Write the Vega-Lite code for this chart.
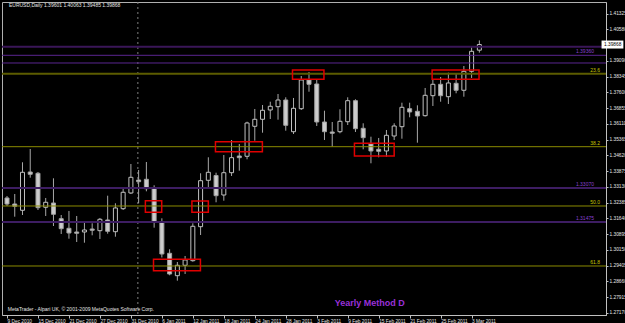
{
 "$schema": "https://vega.github.io/schema/vega-lite/v6.json",
 "width": 604, "height": 313,
 "autosize": "none",
 "padding": {"left": 2, "top": 2, "right": 19, "bottom": 8},
 "background": "#000000",
 "config": {
  "view": {"stroke": "#b0b0b0", "strokeWidth": 1},
  "axis": {"grid": false, "domainColor": "#c0c0c0", "tickColor": "#c0c0c0", "labelColor": "#e6e6e6", "labelFont": "Liberation Sans", "labelFontSize": 4.8, "tickSize": 2, "labelOverlap": false, "labelFlush": false, "labelBound": false},
  "text": {"font": "Liberation Sans"}
 },
 "datasets": {
  "one": [{}],
  "bars": [
   {"i":0,"date":"2010-12-09","o":1.32610,"h":1.32704,"l":1.32231,"c":1.32326},
   {"i":1,"date":"2010-12-10","o":1.32326,"h":1.32799,"l":1.31725,"c":1.32217},
   {"i":2,"date":"2010-12-13","o":1.32028,"h":1.34298,"l":1.31805,"c":1.33825},
   {"i":3,"date":"2010-12-14","o":1.33839,"h":1.34927,"l":1.33570,"c":1.33731},
   {"i":4,"date":"2010-12-15","o":1.33778,"h":1.33839,"l":1.32042,"c":1.32151},
   {"i":5,"date":"2010-12-16","o":1.32170,"h":1.32610,"l":1.31758,"c":1.32406},
   {"i":6,"date":"2010-12-17","o":1.32373,"h":1.33541,"l":1.31285,"c":1.31839},
   {"i":7,"date":"2010-12-20","o":1.31630,"h":1.31805,"l":1.30907,"c":1.31157},
   {"i":8,"date":"2010-12-21","o":1.31176,"h":1.31995,"l":1.30684,"c":1.30954},
   {"i":9,"date":"2010-12-22","o":1.31001,"h":1.31758,"l":1.30528,"c":1.30940},
   {"i":10,"date":"2010-12-23","o":1.31001,"h":1.31460,"l":1.30495,"c":1.31096},
   {"i":11,"date":"2010-12-24","o":1.31143,"h":1.31413,"l":1.30845,"c":1.31082},
   {"i":12,"date":"2010-12-27","o":1.31063,"h":1.31664,"l":1.30670,"c":1.31602},
   {"i":13,"date":"2010-12-28","o":1.31569,"h":1.32718,"l":1.30921,"c":1.31034},
   {"i":14,"date":"2010-12-29","o":1.31015,"h":1.32359,"l":1.30779,"c":1.32137},
   {"i":15,"date":"2010-12-30","o":1.32103,"h":1.33116,"l":1.32042,"c":1.32879},
   {"i":16,"date":"2010-12-31","o":1.32846,"h":1.34218,"l":1.32799,"c":1.33589},
   {"i":17,"date":"2011-01-03","o":1.33461,"h":1.33934,"l":1.32359,"c":1.33380},
   {"i":18,"date":"2011-01-04","o":1.33494,"h":1.34312,"l":1.32926,"c":1.33049},
   {"i":19,"date":"2011-01-05","o":1.33068,"h":1.33210,"l":1.31205,"c":1.31460},
   {"i":20,"date":"2011-01-06","o":1.31460,"h":1.31649,"l":1.29795,"c":1.29961},
   {"i":21,"date":"2011-01-07","o":1.29994,"h":1.30183,"l":1.28953,"c":1.29015},
   {"i":22,"date":"2011-01-10","o":1.28934,"h":1.29582,"l":1.28698,"c":1.29426},
   {"i":23,"date":"2011-01-11","o":1.29426,"h":1.29866,"l":1.29015,"c":1.29677},
   {"i":24,"date":"2011-01-12","o":1.29644,"h":1.31413,"l":1.29596,"c":1.31271},
   {"i":25,"date":"2011-01-13","o":1.31252,"h":1.33778,"l":1.30859,"c":1.33428},
   {"i":26,"date":"2011-01-14","o":1.33447,"h":1.34535,"l":1.33097,"c":1.33825},
   {"i":27,"date":"2011-01-17","o":1.33674,"h":1.33806,"l":1.32406,"c":1.32718},
   {"i":28,"date":"2011-01-18","o":1.32751,"h":1.34643,"l":1.32482,"c":1.33806},
   {"i":29,"date":"2011-01-19","o":1.33806,"h":1.35353,"l":1.33650,"c":1.34516},
   {"i":30,"date":"2011-01-20","o":1.34596,"h":1.35164,"l":1.33901,"c":1.34516},
   {"i":31,"date":"2011-01-21","o":1.34582,"h":1.36218,"l":1.34440,"c":1.36157},
   {"i":32,"date":"2011-01-24","o":1.36001,"h":1.36819,"l":1.35320,"c":1.36332},
   {"i":33,"date":"2011-01-25","o":1.36332,"h":1.37008,"l":1.35698,"c":1.36758},
   {"i":34,"date":"2011-01-26","o":1.36772,"h":1.37164,"l":1.36346,"c":1.36947},
   {"i":35,"date":"2011-01-27","o":1.36928,"h":1.37529,"l":1.36313,"c":1.37245},
   {"i":36,"date":"2011-01-28","o":1.37245,"h":1.37373,"l":1.35793,"c":1.36048},
   {"i":37,"date":"2011-01-31","o":1.35745,"h":1.37340,"l":1.35637,"c":1.36852},
   {"i":38,"date":"2011-02-01","o":1.36833,"h":1.38380,"l":1.36772,"c":1.38191},
   {"i":39,"date":"2011-02-02","o":1.38191,"h":1.38569,"l":1.37637,"c":1.37988},
   {"i":40,"date":"2011-02-03","o":1.38002,"h":1.38191,"l":1.36015,"c":1.36204},
   {"i":41,"date":"2011-02-04","o":1.36204,"h":1.36739,"l":1.35353,"c":1.35745},
   {"i":42,"date":"2011-02-07","o":1.35731,"h":1.36204,"l":1.35036,"c":1.35670},
   {"i":43,"date":"2011-02-08","o":1.35745,"h":1.36805,"l":1.35670,"c":1.36237},
   {"i":44,"date":"2011-02-09","o":1.36218,"h":1.37373,"l":1.36062,"c":1.37212},
   {"i":45,"date":"2011-02-10","o":1.37212,"h":1.37278,"l":1.35731,"c":1.35887},
   {"i":46,"date":"2011-02-11","o":1.35906,"h":1.36143,"l":1.34913,"c":1.35462},
   {"i":47,"date":"2011-02-14","o":1.35164,"h":1.35509,"l":1.34251,"c":1.34833},
   {"i":48,"date":"2011-02-15","o":1.34913,"h":1.35448,"l":1.34535,"c":1.34818},
   {"i":49,"date":"2011-02-16","o":1.34833,"h":1.35826,"l":1.34563,"c":1.35575},
   {"i":50,"date":"2011-02-17","o":1.35542,"h":1.36143,"l":1.35353,"c":1.36015},
   {"i":51,"date":"2011-02-18","o":1.35982,"h":1.37117,"l":1.35414,"c":1.36900},
   {"i":52,"date":"2011-02-21","o":1.36833,"h":1.37117,"l":1.36427,"c":1.36677},
   {"i":53,"date":"2011-02-22","o":1.36710,"h":1.36994,"l":1.35225,"c":1.36488},
   {"i":54,"date":"2011-02-23","o":1.36502,"h":1.37813,"l":1.36464,"c":1.37467},
   {"i":55,"date":"2011-02-24","o":1.37448,"h":1.38191,"l":1.36961,"c":1.37988},
   {"i":56,"date":"2011-02-25","o":1.37988,"h":1.38333,"l":1.37164,"c":1.37448},
   {"i":57,"date":"2011-02-28","o":1.37401,"h":1.38536,"l":1.37056,"c":1.38049},
   {"i":58,"date":"2011-03-01","o":1.38035,"h":1.38475,"l":1.37562,"c":1.37704},
   {"i":59,"date":"2011-03-02","o":1.37704,"h":1.38853,"l":1.37401,"c":1.38602},
   {"i":60,"date":"2011-03-03","o":1.38602,"h":1.39738,"l":1.38286,"c":1.39548},
   {"i":61,"date":"2011-03-04","o":1.39601,"h":1.40063,"l":1.39485,"c":1.39868}
  ],
  "boxes": [
   {"x1":17.87,"x2":19.98,"y1":1.31933,"y2":1.32482},
   {"x1":18.92,"x2":24.98,"y1":1.29171,"y2":1.29710},
   {"x1":23.88,"x2":26.0,"y1":1.31933,"y2":1.32468},
   {"x1":26.92,"x2":32.98,"y1":1.34799,"y2":1.35272},
   {"x1":36.87,"x2":40.93,"y1":1.38224,"y2":1.38664},
   {"x1":44.87,"x2":50.0,"y1":1.34596,"y2":1.35197},
   {"x1":54.9,"x2":60.96,"y1":1.38224,"y2":1.38664}
  ]
 },
 "layer": [
  {
   "data": {"name": "one"},
   "mark": {"type": "rule", "color": "#808080", "strokeDash": [2, 3], "strokeWidth": 1},
   "encoding": {"x": {"datum": 16.9, "type": "quantitative"}}
  },
  {
   "data": {"name": "bars"},
   "mark": {"type": "rule", "color": "#a8a8a8", "strokeWidth": 1, "clip": true},
   "encoding": {
    "x": {"field": "i", "type": "quantitative", "title": null,
      "scale": {"domain": [0, 76.71], "nice": false, "zero": false},
      "axis": {"values": [0,4,8,12,16,20,24,28,32,36,40,44,48,52,56,60], "tickCount": 40, "labelAlign": "left", "labelBaseline": "top", "labelPadding": 0, "labelDx": 1, "tickSize": 3, "labelOverlap": false, "labelFlush": false,
        "labelExpr": "['9 Dec 2010','15 Dec 2010','21 Dec 2010','27 Dec 2010','31 Dec 2010','6 Jan 2011','12 Jan 2011','18 Jan 2011','24 Jan 2011','28 Jan 2011','3 Feb 2011','9 Feb 2011','15 Feb 2011','21 Feb 2011','25 Feb 2011','3 Mar 2011'][round(datum.value/4)]"}},
    "y": {"field": "l", "type": "quantitative", "title": null,
      "scale": {"domain": [1.27075, 1.41880], "nice": false, "zero": false},
      "axis": {"orient": "right", "values": [1.27170,1.27915,1.28660,1.29405,1.30150,1.30895,1.31640,1.32385,1.33130,1.33875,1.34620,1.35365,1.36110,1.36855,1.37600,1.38345,1.39090,1.40580,1.41325], "tickCount": 40, "format": ".5f", "labelAlign": "left", "labelBaseline": "middle", "labelPadding": 1, "tickSize": 2, "labelOverlap": false, "labelFlush": false}},
    "y2": {"field": "h"}
   }
  },
  {
   "data": {"name": "bars"},
   "transform": [{"filter": "datum.c >= datum.o"}],
   "mark": {"type": "bar", "size": 4, "fill": "#000000", "stroke": "#c0c0c0", "strokeWidth": 1, "clip": true},
   "encoding": {
    "x": {"field": "i", "type": "quantitative", "title": null},
    "y": {"field": "o", "type": "quantitative", "title": null},
    "y2": {"field": "c"}
   }
  },
  {
   "data": {"name": "bars"},
   "transform": [{"filter": "datum.c < datum.o"}],
   "mark": {"type": "bar", "size": 4, "fill": "#cccccc", "stroke": "#a0a0a0", "strokeWidth": 1, "clip": true},
   "encoding": {
    "x": {"field": "i", "type": "quantitative", "title": null},
    "y": {"field": "o", "type": "quantitative", "title": null},
    "y2": {"field": "c"}
   }
  },
  {"data": {"name": "one"}, "mark": {"type": "rule", "color": "#3a1658", "strokeWidth": 2}, "encoding": {"y": {"datum": 1.39766, "type": "quantitative"}}},
  {"data": {"name": "one"}, "mark": {"type": "rule", "color": "#5a2590", "strokeWidth": 1}, "encoding": {"y": {"datum": 1.39359, "type": "quantitative"}}},
  {"data": {"name": "one"}, "mark": {"type": "rule", "color": "#5a2590", "strokeWidth": 1}, "encoding": {"y": {"datum": 1.38995, "type": "quantitative"}}},
  {"data": {"name": "one"}, "mark": {"type": "rule", "color": "#5c5c00", "strokeWidth": 2}, "encoding": {"y": {"datum": 1.38489, "type": "quantitative"}}},
  {"data": {"name": "one"}, "mark": {"type": "rule", "color": "#8a8a00", "strokeWidth": 1}, "encoding": {"y": {"datum": 1.35036, "type": "quantitative"}}},
  {"data": {"name": "one"}, "mark": {"type": "rule", "color": "#3d1d62", "strokeWidth": 2}, "encoding": {"y": {"datum": 1.33083, "type": "quantitative"}}},
  {"data": {"name": "one"}, "mark": {"type": "rule", "color": "#8a8a00", "strokeWidth": 1}, "encoding": {"y": {"datum": 1.32231, "type": "quantitative"}}},
  {"data": {"name": "one"}, "mark": {"type": "rule", "color": "#3d1d62", "strokeWidth": 2}, "encoding": {"y": {"datum": 1.31474, "type": "quantitative"}}},
  {"data": {"name": "one"}, "mark": {"type": "rule", "color": "#8a8a00", "strokeWidth": 1}, "encoding": {"y": {"datum": 1.29393, "type": "quantitative"}}},
  {
   "data": {"name": "boxes"},
   "mark": {"type": "rect", "fill": null, "fillOpacity": 0, "stroke": "#e00000", "strokeWidth": 1.5},
   "encoding": {
    "x": {"field": "x1", "type": "quantitative", "title": null},
    "x2": {"field": "x2"},
    "y": {"field": "y1", "type": "quantitative", "title": null},
    "y2": {"field": "y2"}
   }
  },
  {
   "data": {"values": [
     {"t": "23.6", "p": 1.38489}, {"t": "38.2", "p": 1.35036}, {"t": "50.0", "p": 1.32231}, {"t": "61.8", "p": 1.29393}
   ]},
   "mark": {"type": "text", "align": "right", "baseline": "bottom", "dx": -1, "dy": -1, "fontSize": 5, "color": "#c8c800"},
   "encoding": {
    "x": {"datum": 76.71, "type": "quantitative"},
    "y": {"field": "p", "type": "quantitative", "title": null},
    "text": {"field": "t"}
   }
  },
  {
   "data": {"values": [
     {"t": "1.39360", "p": 1.39359}, {"t": "1.33070", "p": 1.33083}, {"t": "1.31475", "p": 1.31474}
   ]},
   "mark": {"type": "text", "align": "right", "baseline": "bottom", "dx": -7, "dy": -1, "fontSize": 5, "color": "#8a40d0"},
   "encoding": {
    "x": {"datum": 76.71, "type": "quantitative"},
    "y": {"field": "p", "type": "quantitative", "title": null},
    "text": {"field": "t"}
   }
  },
  {
   "data": {"name": "one"},
   "mark": {"type": "rect", "fill": "#ffffff", "clip": false},
   "encoding": {
    "x": {"datum": 76.78, "type": "quantitative"},
    "x2": {"datum": 79.6},
    "y": {"datum": 1.39679, "type": "quantitative"},
    "y2": {"datum": 1.40057}
   }
  },
  {
   "data": {"name": "one"},
   "mark": {"type": "text", "align": "left", "baseline": "middle", "dx": 3, "fontSize": 4.8, "color": "#000000"},
   "encoding": {
    "x": {"datum": 76.71, "type": "quantitative"},
    "y": {"datum": 1.39868, "type": "quantitative"},
    "text": {"value": "1.39868"}
   }
  },
  {
   "data": {"name": "one"},
   "mark": {"type": "text", "align": "left", "baseline": "middle", "fontSize": 5, "color": "#e6e6e6"},
   "encoding": {
    "x": {"datum": 0.25, "type": "quantitative"},
    "y": {"datum": 1.41715, "type": "quantitative"},
    "text": {"value": "EURUSD,Daily  1.39601 1.40063 1.39485 1.39868"}
   }
  },
  {
   "data": {"name": "one"},
   "mark": {"type": "text", "align": "left", "baseline": "middle", "fontSize": 5, "color": "#e6e6e6"},
   "encoding": {
    "x": {"datum": 0.1, "type": "quantitative"},
    "y": {"datum": 1.27359, "type": "quantitative"},
    "text": {"value": "MetaTrader - Alpari UK, © 2001-2009 MetaQuotes Software Corp."}
   }
  },
  {
   "data": {"name": "one"},
   "mark": {"type": "text", "align": "center", "baseline": "middle", "fontSize": 9, "fontWeight": "bold", "color": "#9a30d8"},
   "encoding": {
    "x": {"datum": 46.86, "type": "quantitative"},
    "y": {"datum": 1.27643, "type": "quantitative"},
    "text": {"value": "Yearly Method D"}
   }
  }
 ]
}
